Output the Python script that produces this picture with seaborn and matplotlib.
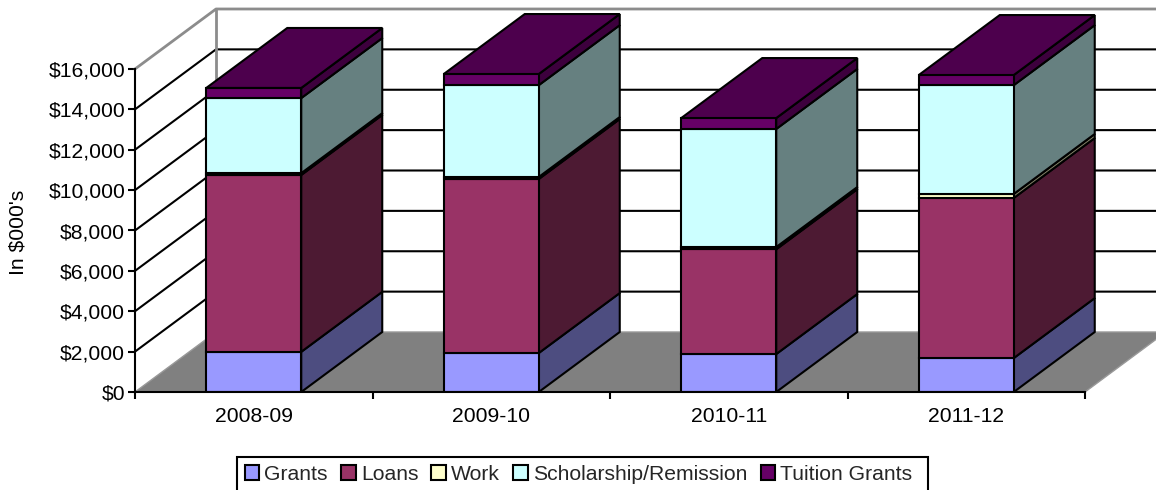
import numpy as np
import pandas as pd
import seaborn as sns
import matplotlib
matplotlib.use('Agg')
import matplotlib.pyplot as plt
from matplotlib.patches import Patch, Polygon, Rectangle

years = ['2008-09', '2009-10', '2010-11', '2011-12']
series = ['Grants', 'Loans', 'Work', 'Scholarship/Remission', 'Tuition Grants']
grants = [1990, 1930, 1880, 1680]
loans = [8760, 8620, 5190, 7930]
work = [90, 100, 110, 200]
scholarship = [3720, 4550, 5850, 5390]
tuition = [500, 550, 540, 500]
yticks = list(range(0, 16001, 2000))

front = ['#9999FF', '#993366', '#FFFFCC', '#CCFFFF', '#660066']
side = ['#4D4D80', '#4D1A33', '#808066', '#668080', '#3D003D']
top_col = '#4D004D'

sns.set_style('white')
plt.rcParams['font.family'] = ['Liberation Sans', 'DejaVu Sans']

W, H = 1156, 490
fig = plt.figure(figsize=(W / 100, H / 100), dpi=100)
ax = fig.add_axes([135 / W, 1 - 392 / H, 950 / W, 323 / H])

# depth of the fake 3d box, in data units (81 px across, 60 px up)
dx = 81 / 237.5
dy = 60 / 323 * 16000
lw = 1.5
fs = 15.2

df = pd.DataFrame({'year': years})
bottom = np.zeros(4)
for name, vals, c in zip(series, [grants, loans, work, scholarship, tuition], front):
    sns.barplot(data=df.assign(v=vals), x='year', y='v', bottom=bottom, width=0.4, color=c,
                saturation=1, edgecolor='black', linewidth=lw, zorder=6, ax=ax, errorbar=None)
    bottom = bottom + np.array(vals)

ax.set_xlim(-0.5, 3.5)
ax.set_ylim(0, 16000)

# floor
x0, x1 = -0.5, 3.5
ax.add_patch(Polygon([(x0, 0), (x0 + dx, dy), (x1 + dx, dy), (x1, 0)], closed=True, fc='#808080',
                     ec='#999999', lw=1, clip_on=False, zorder=1))
# walls and grid
for t in yticks[1:-1]:
    ax.plot([x0, x0 + dx, x1 + dx], [t, t + dy, t + dy], color='black', lw=lw, clip_on=False, zorder=2)
ax.plot([x0, x0 + dx, x1 + dx], [16000, 16000 + dy, 16000 + dy], color='#8c8c8c', lw=2,
        clip_on=False, zorder=2)
ax.plot([x0 + dx, x0 + dx], [dy, 16000 + dy], color='#8c8c8c', lw=2, clip_on=False, zorder=2)

# sides and tops of the columns
bottom = np.zeros(4)
for vals, c in zip([grants, loans, work, scholarship, tuition], side):
    for i in range(4):
        xr = i + 0.2
        b, t = bottom[i], bottom[i] + vals[i]
        ax.add_patch(Polygon([(xr, b), (xr + dx, b + dy), (xr + dx, t + dy), (xr, t)], closed=True,
                             fc=c, ec='black', lw=lw, clip_on=False, zorder=5))
    bottom = bottom + np.array(vals)
for i in range(4):
    xl, xr, t = i - 0.2, i + 0.2, bottom[i]
    ax.add_patch(Polygon([(xl, t), (xr, t), (xr + dx, t + dy), (xl + dx, t + dy)], closed=True,
                         fc=top_col, ec='black', lw=lw, clip_on=False, zorder=5))

ax.set_yticks(yticks)
ax.set_yticklabels(['${:,}'.format(t) for t in yticks], fontsize=fs, color='black')
ax.set_xlabel('')
ax.set_ylabel("In $000's", fontsize=fs, color='black')
ax.yaxis.set_label_coords((28 - 135) / 950, (392 - 232) / 323)
ax.set_xticks(np.arange(-0.5, 3.6, 1), minor=True)
ax.tick_params(axis='x', which='major', length=0, pad=11, labelsize=fs, labelcolor='black')
ax.tick_params(axis='x', which='minor', length=5, width=lw, color='black', direction='out', bottom=True)
ax.tick_params(axis='y', length=5, width=lw, color='black', direction='out', left=True, pad=2)
for s in ['top', 'right']:
    ax.spines[s].set_visible(False)
for s in ['left', 'bottom']:
    ax.spines[s].set_color('black')
    ax.spines[s].set_linewidth(lw)
    ax.spines[s].set_zorder(7)

# legend box runs off the bottom of the picture, as in the original
fig.add_artist(Rectangle((237 / W, -0.02), 691 / W, 33 / H + 0.02, transform=fig.transFigure,
                         fc='white', ec='black', lw=lw))
handles = [Patch(fc=c, ec='black', lw=lw) for c in front]
leg = fig.legend(handles, series, loc='upper left', bbox_to_anchor=(237 / W, 1 - 457 / H), ncol=5,
                 fontsize=fs, frameon=False, handlelength=0.7, handleheight=0.7, handletextpad=0.24,
                 columnspacing=0.62, borderpad=0.36, borderaxespad=0)

fig.savefig('out.png', dpi=100)
